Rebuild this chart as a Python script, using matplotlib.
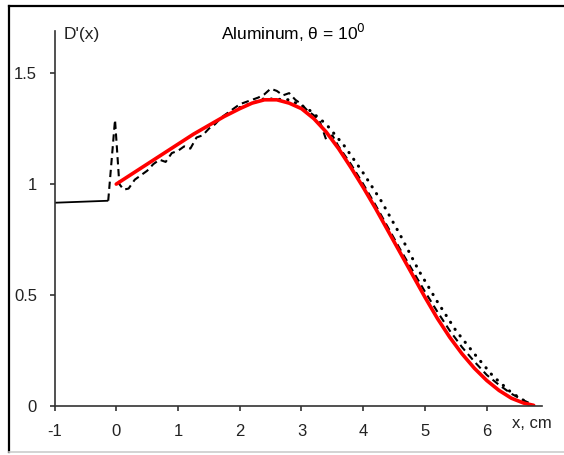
import matplotlib
matplotlib.use("Agg")
import matplotlib.pyplot as plt
from matplotlib.lines import Line2D

plt.rcParams['font.family'] = ['Liberation Sans', 'DejaVu Sans']

# Incident step (solid black)
step_x = [-1.0, -0.13]
step_y = [0.916, 0.925]

# Experimental curve (dashed black)
exp_x = [-0.13, -0.02, 0.05, 0.12, 0.2, 0.3, 0.4, 0.5, 0.6, 0.7, 0.8, 0.9, 1.0,
         1.1, 1.2, 1.3, 1.4, 1.5, 1.6, 1.7, 1.8, 1.9, 2.0, 2.1, 2.2, 2.3, 2.4,
         2.5, 2.6, 2.7, 2.8, 2.9, 3.0, 3.1, 3.2, 3.3, 3.4, 3.5, 3.6, 3.8, 4.0,
         4.2, 4.4, 4.6, 4.8, 5.0, 5.2, 5.4, 5.6, 5.8, 6.0, 6.2, 6.4, 6.6, 6.7]
exp_y = [0.925, 1.29, 1.0, 0.975, 0.98, 1.02, 1.04, 1.06, 1.09, 1.11, 1.10, 1.14,
         1.15, 1.17, 1.16, 1.21, 1.22, 1.25, 1.27, 1.30, 1.32, 1.34, 1.36, 1.37,
         1.38, 1.39, 1.405, 1.43, 1.42, 1.40, 1.41, 1.38, 1.36, 1.33, 1.31, 1.28,
         1.20, 1.22, 1.17, 1.09, 1.0, 0.905, 0.805, 0.705, 0.61, 0.515, 0.425,
         0.34, 0.265, 0.20, 0.14, 0.095, 0.055, 0.025, 0.012]

# Second calculation (dotted black)
dot_x = [2.0, 2.4, 2.8, 3.1, 3.4, 3.7, 4.0, 4.3, 4.6, 4.9, 5.2, 5.5, 5.8, 6.1,
         6.4, 6.6]
dot_y = [1.345, 1.385, 1.38, 1.34, 1.27, 1.17, 1.05, 0.92, 0.77, 0.61, 0.47,
         0.34, 0.235, 0.135, 0.06, 0.025]

# Calculation (solid red)
red_x = [0.0, 0.25, 0.5, 0.75, 1.0, 1.25, 1.5, 1.75, 2.0, 2.2, 2.4, 2.6, 2.8,
         3.0, 3.2, 3.4, 3.6, 3.8, 4.0, 4.2, 4.4, 4.6, 4.8, 5.0, 5.2, 5.4, 5.6,
         5.8, 6.0, 6.2, 6.4, 6.6, 6.76]
red_y = [1.00, 1.045, 1.09, 1.135, 1.18, 1.225, 1.265, 1.305, 1.34, 1.365, 1.38,
         1.38, 1.365, 1.34, 1.295, 1.235, 1.16, 1.075, 0.985, 0.89, 0.79, 0.69,
         0.59, 0.49, 0.395, 0.31, 0.235, 0.17, 0.115, 0.07, 0.035, 0.013, 0.003]

xticks = [-1, 0, 1, 2, 3, 4, 5, 6]
yticks = [0, 0.5, 1, 1.5]
ytick_labels = ['0', '0.5', '1', '1.5']

W, H = 564, 455
fig = plt.figure(figsize=(W / 100, H / 100), dpi=100)
ax = fig.add_axes([54.5 / W, 49 / H, (541.7 - 54.5) / W, (406 - 31) / H])

ax.plot(step_x, step_y, color='black', lw=1.3, solid_capstyle='butt')
ax.plot(exp_x, exp_y, color='black', lw=1.5, linestyle=(0, (3.5, 2.2)))
ax.plot(dot_x, dot_y, color='black', lw=2.2, linestyle=(0, (0.1, 2.6)),
        dash_capstyle='round')
ax.plot(red_x, red_y, color='#ff0000', lw=2.6, solid_capstyle='round',
        solid_joinstyle='round')

ax.set_xlim(-1, 6.89)
ax.set_ylim(0, 1.69)
ax.set_xticks(xticks)
ax.set_xticklabels([str(t) for t in xticks])
ax.set_yticks(yticks)
ax.set_yticklabels(ytick_labels)
for s in ['top', 'right']:
    ax.spines[s].set_visible(False)
for s in ['left', 'bottom']:
    ax.spines[s].set_color('#333333')
    ax.spines[s].set_linewidth(1.2)
ax.tick_params(direction='out', length=3.6, width=1.2, color='#333333',
               labelsize=12, labelcolor='#222222', pad=9)

fig.text(293 / W, 1 - 40 / H, r'Aluminum, θ = 10$^{0}$', ha='center',
         va='baseline', fontsize=12.5, color='#000000')
fig.text(64 / W, 1 - 39 / H, "D'(x)", ha='left', va='baseline', fontsize=12.5,
         color='#222222')
fig.text(512 / W, 1 - 428 / H, 'x, cm', ha='left', va='baseline', fontsize=12,
         color='#222222')

# outer frame: black top and left, light grey bottom
fig.lines.append(Line2D([8.5 / W, 1.0], [1 - 5.5 / H, 1 - 5.5 / H],
                        transform=fig.transFigure, color='black', lw=1.6))
fig.lines.append(Line2D([8.5 / W, 8.5 / W], [1 - 5.5 / H, 1 - 452 / H],
                        transform=fig.transFigure, color='black', lw=1.6))
fig.lines.append(Line2D([8.5 / W, 1.0], [1 - 451.5 / H, 1 - 451.5 / H],
                        transform=fig.transFigure, color='#cccccc', lw=1.2))

fig.savefig('out.png', dpi=100)
